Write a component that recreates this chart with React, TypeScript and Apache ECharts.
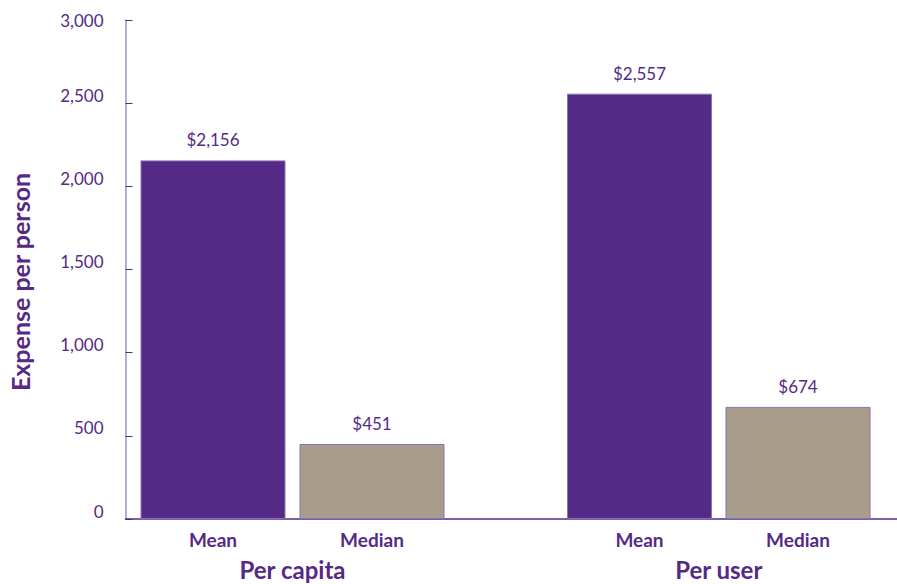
import React, { useEffect, useRef } from "react";
import * as echarts from "echarts";

const measures = ["Mean", "Median"];
const groups = ["Per capita", "Per user"];
const perCapitaValues = [2156, 451];
const perUserValues = [2557, 674];
const yTicks = { min: 0, max: 3000, interval: 500 };
const barColors = ["#542a86", "#a89c8a"];

const PURPLE = "#542a86";
const FONT = "Lato, 'Open Sans', sans-serif";

export default function App() {
  const ref = useRef<HTMLDivElement>(null);
  useEffect(() => {
    if (!ref.current) return;
    const chart = echarts.init(ref.current, null, { renderer: "svg" });
    const mkSeries = (vals: number[], idx: number) => ({
      type: "bar",
      xAxisIndex: idx,
      yAxisIndex: idx,
      barWidth: 145,
      data: vals.map((v, i) => ({
        value: v,
        itemStyle: { color: barColors[i], borderColor: "#8a72b8", borderWidth: 1 },
      })),
      label: {
        show: true,
        position: "top",
        distance: 12,
        color: PURPLE,
        fontFamily: FONT,
        fontSize: 17,
        formatter: (p: any) => "$" + Number(p.value).toLocaleString("en-US"),
      },
    });
    const hiddenY = (gi: number) => ({
      type: "value",
      gridIndex: gi,
      min: yTicks.min,
      max: yTicks.max,
      interval: yTicks.interval,
      show: false,
    });
    const catX = (gi: number, name: string) => ({
      type: "category",
      gridIndex: gi,
      data: measures,
      axisLine: { show: false },
      axisTick: { show: false },
      axisLabel: { color: PURPLE, fontFamily: FONT, fontWeight: "bold", fontSize: 19, margin: 11 },
      name,
      nameLocation: "middle",
      nameGap: 38,
      nameTextStyle: { color: PURPLE, fontFamily: FONT, fontWeight: "bold", fontSize: 24 },
    });
    const g = { top: 20, bottom: 65, outerBoundsMode: "none", containLabel: false };
    chart.setOption({
      animation: false,
      grid: [
        { ...g, left: 125.5, right: 0 },
        { ...g, left: 133.5, right: 445.5 },
        { ...g, left: 560.25, right: 19.75 },
      ],
      xAxis: [
        {
          type: "value",
          gridIndex: 0,
          min: 0,
          max: 1,
          axisLine: { show: true, onZero: false, lineStyle: { color: PURPLE, width: 1.5 } },
          axisTick: { show: false },
          axisLabel: { show: false },
          splitLine: { show: false },
        },
        catX(1, groups[0]),
        catX(2, groups[1]),
      ],
      yAxis: [
        {
          type: "value",
          gridIndex: 0,
          min: yTicks.min,
          max: yTicks.max,
          interval: yTicks.interval,
          axisLine: { show: true, lineStyle: { color: "#a591c9", width: 1.5 } },
          axisTick: { show: true, inside: true, length: 7, lineStyle: { color: PURPLE, width: 1 } },
          axisLabel: {
            color: PURPLE,
            fontFamily: FONT,
            fontSize: 17,
            margin: 22,
            formatter: (v: number) =>
              v === yTicks.max ? `{top|${v.toLocaleString("en-US")}}` : `{up|${v.toLocaleString("en-US")}}`,
            rich: {
              top: { color: PURPLE, fontFamily: FONT, fontSize: 17 },
              up: { color: PURPLE, fontFamily: FONT, fontSize: 17, padding: [0, 0, 16, 0] },
            },
          },
          splitLine: { show: false },
        },
        hiddenY(1),
        hiddenY(2),
      ],
      graphic: [
        {
          type: "text",
          x: 20,
          y: 282,
          rotation: Math.PI / 2,
          style: {
            text: "Expense per person",
            fill: PURPLE,
            font: `bold 25px ${FONT}`,
            align: "center",
            verticalAlign: "middle",
          },
        },
      ],
      series: [mkSeries(perCapitaValues, 1), mkSeries(perUserValues, 2)],
    });
    return () => chart.dispose();
  }, []);
  return (
    <div
      ref={ref}
      style={{ position: "absolute", left: 0, top: 0, width: 897, height: 584, background: "#fff" }}
    />
  );
}
